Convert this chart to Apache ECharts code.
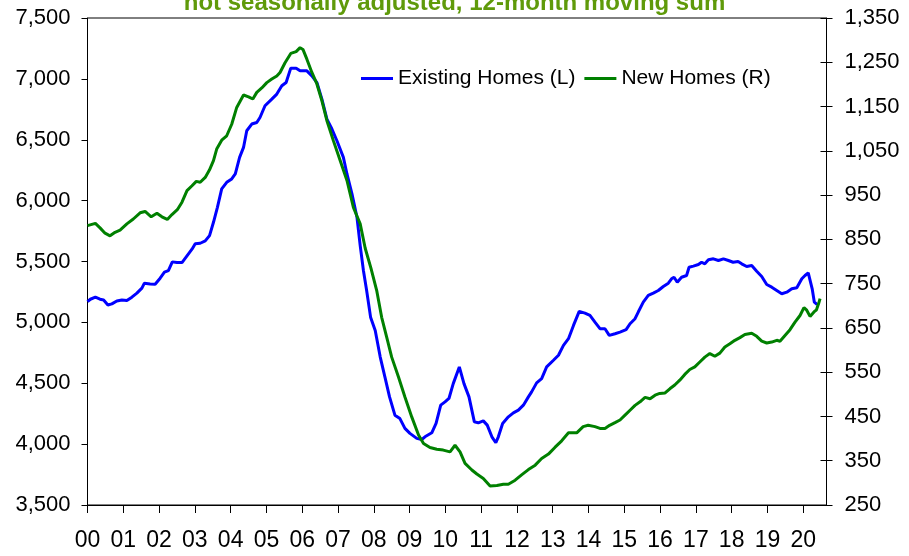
<!DOCTYPE html>
<html>
<head>
<meta charset="utf-8">
<script src="https://cdn.jsdelivr.net/npm/echarts@6/dist/echarts.min.js"></script>
<style>
  body { margin: 0; background: #fff; }
  #chart { width: 909px; height: 556px; }
</style>
</head>
<body>
<div id="chart"></div>
<script>
// years since Jan 2000, value (thousands of units, 12-month moving sum)
var existingHomes = [
  [0.00,5170],[0.08,5190],[0.22,5207],[0.35,5190],[0.45,5184],[0.57,5143],[0.68,5152],[0.82,5176],[0.96,5184],
  [1.10,5179],[1.24,5207],[1.38,5240],[1.52,5281],[1.59,5322],[1.75,5316],[1.89,5313],[2.03,5363],[2.15,5412],
  [2.26,5425],[2.37,5497],[2.50,5491],[2.64,5491],[2.78,5546],[2.92,5601],[3.01,5645],[3.15,5650],[3.29,5669],
  [3.41,5713],[3.52,5822],[3.63,5945],[3.75,6096],[3.89,6150],[4.03,6178],[4.13,6219],[4.25,6355],[4.36,6437],
  [4.45,6574],[4.59,6629],[4.73,6642],[4.82,6683],[4.96,6779],[5.15,6834],[5.29,6875],[5.43,6943],[5.55,6970],
  [5.68,7088],[5.83,7088],[5.94,7066],[6.13,7066],[6.27,7025],[6.41,6970],[6.55,6834],[6.69,6670],[6.83,6588],
  [6.97,6492],[7.15,6355],[7.25,6219],[7.39,6055],[7.53,5863],[7.62,5630],[7.71,5426],[7.80,5262],[7.91,5043],
  [8.04,4934],[8.18,4715],[8.31,4552],[8.44,4388],[8.59,4238],[8.73,4210],[8.87,4129],[9.01,4088],[9.20,4047],
  [9.34,4038],[9.43,4060],[9.62,4093],[9.74,4170],[9.87,4320],[9.99,4347],[10.10,4375],[10.22,4497],[10.39,4634],
  [10.52,4497],[10.66,4388],[10.81,4183],[10.92,4175],[11.06,4191],[11.17,4156],[11.30,4060],[11.41,4011],[11.48,4060],
  [11.60,4170],[11.76,4224],[11.90,4257],[12.04,4279],[12.18,4320],[12.32,4388],[12.41,4429],[12.55,4503],[12.69,4538],
  [12.83,4634],[13.02,4689],[13.16,4730],[13.30,4811],[13.44,4866],[13.58,4975],[13.74,5090],[13.90,5076],[14.04,5057],
  [14.18,5002],[14.32,4948],[14.46,4948],[14.58,4893],[14.74,4907],[14.88,4920],[15.05,4940],[15.16,4989],[15.30,5030],
  [15.39,5085],[15.53,5166],[15.67,5221],[15.81,5240],[15.95,5262],[16.09,5295],[16.23,5322],[16.32,5358],[16.39,5371],
  [16.48,5330],[16.60,5371],[16.74,5385],[16.81,5453],[16.93,5462],[17.07,5475],[17.16,5494],[17.25,5481],[17.35,5514],
  [17.49,5522],[17.63,5508],[17.77,5522],[17.91,5508],[18.04,5494],[18.18,5500],[18.28,5481],[18.42,5459],[18.56,5467],
  [18.70,5420],[18.84,5377],[18.98,5311],[19.12,5289],[19.26,5262],[19.40,5235],[19.54,5248],[19.68,5276],[19.82,5284],
  [19.96,5358],[20.05,5385],[20.14,5407],[20.25,5276],[20.31,5166],[20.39,5147]
];

var newHomes = [
  [0.00,881],[0.22,886],[0.35,876],[0.49,864],[0.63,858],[0.77,866],[0.91,871],[1.10,885],[1.28,896],[1.47,910],
  [1.61,913],[1.78,901],[1.94,909],[2.08,901],[2.23,895],[2.36,906],[2.51,917],[2.64,934],[2.78,960],[2.92,971],
  [3.04,981],[3.15,979],[3.29,990],[3.41,1007],[3.52,1028],[3.61,1054],[3.75,1074],[3.89,1084],[4.03,1110],[4.17,1148],
  [4.36,1176],[4.50,1172],[4.62,1167],[4.73,1182],[4.87,1192],[5.01,1204],[5.15,1212],[5.29,1219],[5.38,1227],[5.52,1249],
  [5.68,1270],[5.83,1274],[5.94,1283],[6.02,1279],[6.13,1257],[6.27,1227],[6.41,1201],[6.55,1163],[6.69,1118],[6.87,1073],
  [7.06,1028],[7.25,983],[7.43,922],[7.62,885],[7.76,830],[7.92,785],[8.08,735],[8.22,674],[8.36,629],[8.50,584],
  [8.69,539],[8.87,494],[9.06,449],[9.25,408],[9.39,389],[9.57,380],[9.76,376],[9.94,374],[10.13,370],[10.27,385],
  [10.41,370],[10.55,344],[10.74,329],[10.88,320],[11.06,310],[11.25,293],[11.44,294],[11.62,297],[11.76,297],[11.95,306],
  [12.13,318],[12.32,330],[12.51,340],[12.69,355],[12.88,365],[13.06,380],[13.25,395],[13.44,413],[13.67,413],[13.85,427],
  [13.99,430],[14.18,427],[14.32,423],[14.46,423],[14.59,430],[14.74,436],[14.88,442],[15.02,453],[15.16,464],[15.30,475],
  [15.44,483],[15.58,493],[15.72,490],[15.86,498],[15.99,502],[16.14,503],[16.28,513],[16.41,521],[16.55,532],[16.69,545],
  [16.83,556],[16.97,562],[17.11,573],[17.25,584],[17.39,592],[17.53,586],[17.67,593],[17.81,607],[17.95,614],[18.09,622],
  [18.23,628],[18.37,635],[18.56,638],[18.70,631],[18.84,620],[18.98,616],[19.12,618],[19.26,622],[19.35,620],[19.49,633],
  [19.63,646],[19.77,663],[19.91,678],[20.02,696],[20.09,691],[20.19,676],[20.30,686],[20.37,691],[20.43,705],[20.47,716]
];

var yearTicks = [0,1,2,3,4,5,6,7,8,9,10,11,12,13,14,15,16,17,18,19,20];
var yearLabels = ['00','01','02','03','04','05','06','07','08','09','10','11','12','13','14','15','16','17','18','19','20'];
var seriesNames = ['Existing Homes (L)', 'New Homes (R)'];
var subtitle = 'not seasonally adjusted, 12-month moving sum';

var chart = echarts.init(document.getElementById('chart'), null, {renderer: 'canvas'});

function commas(v) {
  return String(v).replace(/\B(?=(\d{3})+(?!\d))/g, ',');
}

var font = '"Liberation Sans", Arial, sans-serif';

chart.setOption({
  animation: false,
  backgroundColor: '#ffffff',
  graphic: [{
    type: 'text',
    left: 'center',
    top: -9,
    style: {
      text: subtitle,
      font: 'bold 24px "Liberation Sans", Arial, sans-serif',
      fill: '#5f9a0a'
    }
  }],
  legend: {
    data: seriesNames,
    left: 361,
    top: 68,
    padding: 0,
    icon: 'rect',
    itemWidth: 32,
    itemHeight: 3,
    itemGap: 9,
    textStyle: { fontFamily: font, fontSize: 21, color: '#000' }
  },
  grid: {
    left: 87.5,
    right: 82.5,
    top: 18,
    bottom: 51,
    show: true,
    borderColor: '#000',
    borderWidth: 1,
    containLabel: false
  },
  xAxis: {
    type: 'value',
    min: 0,
    max: 20.65,
    splitLine: { show: false },
    axisLine: { lineStyle: { color: '#000', width: 1 } },
    axisTick: { show: true, length: 8, customValues: yearTicks, lineStyle: { color: '#000' } },
    axisLabel: {
      customValues: yearTicks,
      margin: 24,
      fontFamily: font,
      fontSize: 23,
      color: '#000',
      formatter: function (v) { return yearLabels[Math.round(v)]; }
    }
  },
  yAxis: [{
    type: 'value',
    position: 'left',
    min: 3500,
    max: 7500,
    interval: 500,
    splitLine: { show: false },
    axisLine: { show: true, lineStyle: { color: '#000' } },
    axisTick: { show: true, length: 6, lineStyle: { color: '#000' } },
    axisLabel: { margin: 17, fontFamily: font, fontSize: 22, color: '#000', formatter: commas }
  }, {
    type: 'value',
    position: 'right',
    min: 250,
    max: 1350,
    interval: 100,
    splitLine: { show: false },
    axisLine: { show: true, lineStyle: { color: '#000' } },
    axisTick: { show: true, length: 6, lineStyle: { color: '#000' } },
    axisLabel: { margin: 18, fontFamily: font, fontSize: 22, color: '#000', formatter: commas }
  }, {
    // inner half of the crossing ticks on the right axis
    type: 'value',
    position: 'right',
    min: 250,
    max: 1350,
    interval: 100,
    splitLine: { show: false },
    axisLine: { show: false },
    axisTick: { show: true, inside: true, length: 6, lineStyle: { color: '#000' } },
    axisLabel: { show: false }
  }],
  series: [{
    name: seriesNames[0],
    type: 'line',
    yAxisIndex: 0,
    data: existingHomes,
    showSymbol: false,
    color: '#0000ff',
    lineStyle: { width: 3, color: '#0000ff' }
  }, {
    name: seriesNames[1],
    type: 'line',
    yAxisIndex: 1,
    data: newHomes,
    showSymbol: false,
    color: '#008000',
    lineStyle: { width: 3, color: '#008000' }
  }]
});
</script>
</body>
</html>
